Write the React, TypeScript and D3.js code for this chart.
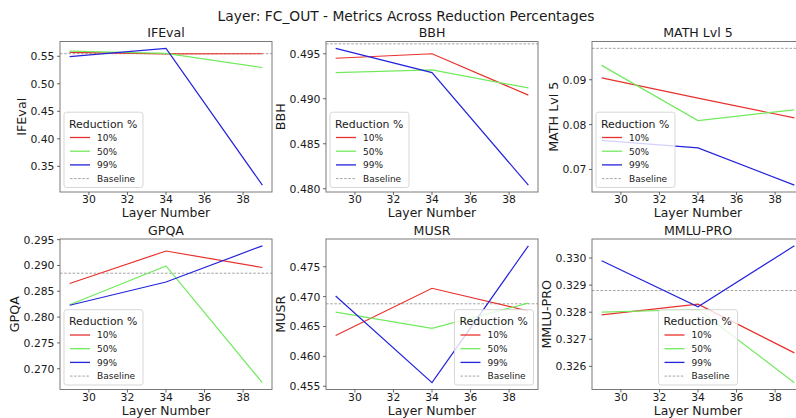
import React from "react";
import * as d3 from "d3";

// ---------------- data ----------------
const layers = [29, 34, 39];
const reductionLabels = ["10%", "50%", "99%"];
const xTicks = [30, 32, 34, 36, 38];

const metricNames = ["IFEval", "BBH", "MATH Lvl 5", "GPQA", "MUSR", "MMLU-PRO"];

const ifeval10 = [0.5569, 0.5545, 0.5546];
const ifeval50 = [0.5595, 0.5552, 0.5296];
const ifeval99 = [0.5494, 0.5644, 0.3158];
const ifevalBaseline = 0.5547;
const ifevalTicks = [0.35, 0.4, 0.45, 0.5, 0.55];

const bbh10 = [0.4945, 0.495, 0.4904];
const bbh50 = [0.4929, 0.4932, 0.4912];
const bbh99 = [0.4956, 0.4929, 0.4804];
const bbhBaseline = 0.4961;
const bbhTicks = [0.48, 0.485, 0.49, 0.495];

const math10 = [0.0904, 0.0859, 0.0815];
const math50 = [0.0932, 0.0809, 0.0833];
const math99 = [0.0765, 0.0748, 0.0665];
const mathBaseline = 0.097;
const mathTicks = [0.07, 0.08, 0.09];

const gpqa10 = [0.2865, 0.2928, 0.2896];
const gpqa50 = [0.2824, 0.2899, 0.2673];
const gpqa99 = [0.2823, 0.2868, 0.2938];
const gpqaBaseline = 0.2885;
const gpqaTicks = [0.27, 0.275, 0.28, 0.285, 0.29, 0.295];

const musr10 = [0.4635, 0.4714, 0.4676];
const musr50 = [0.4674, 0.4647, 0.4689];
const musr99 = [0.4701, 0.4556, 0.4785];
const musrBaseline = 0.4688;
const musrTicks = [0.455, 0.46, 0.465, 0.47, 0.475];

const mmlu10 = [0.3279, 0.3283, 0.3265];
const mmlu50 = [0.328, 0.3281, 0.3254];
const mmlu99 = [0.3299, 0.3282, 0.33045];
const mmluBaseline = 0.3288;
const mmluTicks = [0.326, 0.327, 0.328, 0.329, 0.33];

const tickDecimals = [2, 3, 2, 3, 3, 3];

// ---------------- layout / style ----------------
const W = 796;
const H = 418;
const FONT = "DejaVu Sans, Verdana, sans-serif";
const colors = ["#e8312c", "#72ea5e", "#2424dc"];
const baselineColor = "#9a9a9a";
const spineColor = "#7a7a7a";
const textColor = "#1a1a1a";
const colLefts = [60, 326, 592];
const rowTops = [41.5, 239];
const panelW = 212;
const panelH = 150.5;
const legendLocs = ["lower left", "lower left", "lower left", "lower left", "lower right", "lower center"];

let ctx: CanvasRenderingContext2D | null = null;
function measure(text: string, size: number): number {
  if (!ctx) {
    const c = document.createElement("canvas");
    ctx = c.getContext("2d");
  }
  if (!ctx) return text.length * size * 0.6;
  ctx.font = `${size}px "DejaVu Sans"`;
  return ctx.measureText(text).width;
}

type Panel = {
  name: string;
  series: number[][];
  baseline: number;
  ticks: number[];
  decimals: number;
  loc: string;
};

const panels: Panel[] = [
  { name: metricNames[0], series: [ifeval10, ifeval50, ifeval99], baseline: ifevalBaseline, ticks: ifevalTicks, decimals: tickDecimals[0], loc: legendLocs[0] },
  { name: metricNames[1], series: [bbh10, bbh50, bbh99], baseline: bbhBaseline, ticks: bbhTicks, decimals: tickDecimals[1], loc: legendLocs[1] },
  { name: metricNames[2], series: [math10, math50, math99], baseline: mathBaseline, ticks: mathTicks, decimals: tickDecimals[2], loc: legendLocs[2] },
  { name: metricNames[3], series: [gpqa10, gpqa50, gpqa99], baseline: gpqaBaseline, ticks: gpqaTicks, decimals: tickDecimals[3], loc: legendLocs[3] },
  { name: metricNames[4], series: [musr10, musr50, musr99], baseline: musrBaseline, ticks: musrTicks, decimals: tickDecimals[4], loc: legendLocs[4] },
  { name: metricNames[5], series: [mmlu10, mmlu50, mmlu99], baseline: mmluBaseline, ticks: mmluTicks, decimals: tickDecimals[5], loc: legendLocs[5] },
];

function yDomain(p: Panel): [number, number] {
  const all = p.series.flat();
  let lo = d3.min(all) as number;
  let hi = d3.max(all) as number;
  let m = (hi - lo) * 0.05;
  let d0 = lo - m;
  let d1 = hi + m;
  if (p.baseline < d0 || p.baseline > d1) {
    lo = Math.min(lo, p.baseline);
    hi = Math.max(hi, p.baseline);
    m = (hi - lo) * 0.05;
    d0 = lo - m;
    d1 = hi + m;
  }
  return [d0, d1];
}

function Legend({ x0, x1, yBottom, loc }: { x0: number; x1: number; yBottom: number; loc: string }) {
  const lw = 79;
  const lh = 75.3;
  let L = x0 + 4;
  if (loc === "lower right") L = x1 - 4.5 - lw;
  if (loc === "lower center") L = (x0 + x1) / 2 - lw / 2;
  const T = yBottom - 4.5 - lh;
  const entries = [
    ...reductionLabels.map((lab, i) => ({ lab, color: colors[i], dash: undefined as string | undefined, w: 1.3 })),
    { lab: "Baseline", color: baselineColor, dash: "2.5,1.6", w: 0.9 },
  ];
  return (
    <g>
      <rect x={L} y={T} width={lw} height={lh} rx={2.5} fill="white" fillOpacity={0.8} stroke="#d2d2d2" strokeWidth={0.9} />
      <text x={L + 5} y={T + 15.4} fontSize={10.9} fill={textColor} fontFamily={FONT}>Reduction %</text>
      {entries.map((e, i) => {
        const yy = T + 25.3 + i * 13.7;
        return (
          <g key={e.lab}>
            <line x1={L + 6} x2={L + 26} y1={yy} y2={yy} stroke={e.color} strokeWidth={e.w} strokeDasharray={e.dash} />
            <text x={L + 33} y={yy + 3.3} fontSize={9} fill={textColor} fontFamily={FONT}>{e.lab}</text>
          </g>
        );
      })}
    </g>
  );
}

function PanelView({ p, idx }: { p: Panel; idx: number }) {
  const col = idx % 3;
  const row = Math.floor(idx / 3);
  const x0 = colLefts[col];
  const x1 = x0 + panelW;
  const y0 = rowTops[row];
  const y1 = y0 + panelH;
  const x = d3.scaleLinear().domain([28.5, 39.5]).range([x0, x1]);
  const y = d3.scaleLinear().domain(yDomain(p)).range([y1, y0]);
  const line = d3
    .line<number>()
    .x((_, i) => x(layers[i]))
    .y((v) => y(v));
  const fmt = d3.format(`.${p.decimals}f`);
  const tickFont = 10.8;
  const maxW = d3.max(p.ticks.map((t) => measure(fmt(t), tickFont))) as number;
  const labelStart = x0 - 5.5 - maxW;
  const clipId = `clip${idx}`;
  return (
    <g>
      <defs>
        <clipPath id={clipId}>
          <rect x={x0} y={y0} width={panelW} height={panelH} />
        </clipPath>
      </defs>
      <g clipPath={`url(#${clipId})`}>
        <line x1={x0} x2={x1} y1={y(p.baseline)} y2={y(p.baseline)} stroke={baselineColor} strokeWidth={0.9} strokeDasharray="2.6,1.6" />
        {p.series.map((s, i) => (
          <path key={i} d={line(s) || ""} fill="none" stroke={colors[i]} strokeWidth={1.2} />
        ))}
      </g>
      <Legend x0={x0} x1={x1} yBottom={y1} loc={p.loc} />
      <rect x={x0} y={y0} width={panelW} height={panelH} fill="none" stroke={spineColor} strokeWidth={1} />
      {xTicks.map((t) => (
        <g key={t}>
          <line x1={x(t)} x2={x(t)} y1={y1} y2={y1 + 3} stroke="#444" strokeWidth={0.8} />
          <text x={x(t)} y={y1 + 11.3} textAnchor="middle" fontSize={tickFont} fill={textColor} fontFamily={FONT}>{t}</text>
        </g>
      ))}
      {p.ticks.map((t) => (
        <g key={t}>
          <line x1={x0 - 3} x2={x0} y1={y(t)} y2={y(t)} stroke="#444" strokeWidth={0.8} />
          <text x={x0 - 5.5} y={y(t) + 4} textAnchor="end" fontSize={tickFont} fill={textColor} fontFamily={FONT}>{fmt(t)}</text>
        </g>
      ))}
      <text x={(x0 + x1) / 2} y={y0 - 4.3} textAnchor="middle" fontSize={12.6} fill={textColor} fontFamily={FONT}>{p.name}</text>
      <text x={(x0 + x1) / 2} y={y1 + 25.4} textAnchor="middle" fontSize={12.4} fill={textColor} fontFamily={FONT}>Layer Number</text>
      <text
        transform={`translate(${labelStart - 4.5},${(y0 + y1) / 2}) rotate(-90)`}
        textAnchor="middle"
        fontSize={12.7}
        fill={textColor}
        fontFamily={FONT}
      >
        {p.name}
      </text>
    </g>
  );
}

export default function App() {
  return (
    <svg
      width={W}
      height={H}
      viewBox={`0 0 ${W} ${H}`}
      style={{ position: "absolute", left: 0, top: 0, display: "block", background: "white" }}
    >
      <rect x={0} y={0} width={W} height={H} fill="white" />
      <text x={406} y={21} textAnchor="middle" fontSize={13.8} fill={textColor} fontFamily={FONT}>
        Layer: FC_OUT - Metrics Across Reduction Percentages
      </text>
      {panels.map((p, i) => (
        <PanelView key={p.name} p={p} idx={i} />
      ))}
    </svg>
  );
}
